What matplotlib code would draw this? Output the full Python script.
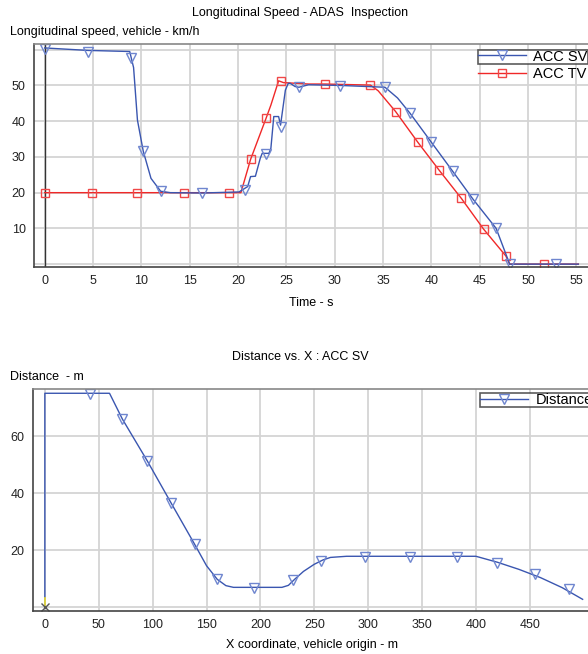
import matplotlib
matplotlib.use("Agg")
import matplotlib.pyplot as plt
from matplotlib.lines import Line2D

plt.rcParams['font.family'] = ['Liberation Sans', 'DejaVu Sans']
plt.rcParams['font.size'] = 9

# ---- top chart: speed vs time ----
sv_t = [0, 4.5, 8.8, 9.2, 9.6, 10.2, 11.0, 12.0, 13.0, 16.3, 20.1, 21.0, 21.3, 21.8, 22.3, 22.5,
        23.2, 23.4, 23.7, 24.2, 24.4, 24.9, 25.2, 25.4, 25.9, 26.3, 27.3, 30.6, 35.2, 36.5, 37.8,
        40.0, 42.2, 44.3, 46.7, 48.1, 52.9, 55.2]
sv_v = [60.5, 59.8, 59.5, 55.0, 40.3, 31.6, 24.0, 20.4, 20.0, 19.9, 20.2, 21.7, 24.5, 24.6, 29.6, 31.0,
        31.0, 32.4, 41.3, 41.3, 38.9, 48.7, 50.6, 50.6, 49.7, 49.5, 50.2, 50.0, 49.5, 46.5, 42.2,
        34.1, 26.0, 18.2, 10.0, 0.0, 0.0, 0.0]
sv_mt = [0, 4.5, 8.9, 10.2, 12.0, 16.3, 20.7, 22.9, 24.4, 26.3, 30.6, 35.2, 37.8, 40.0, 42.2, 44.3, 46.7, 48.1, 52.9]
sv_mv = [60.2, 59.3, 57.6, 31.6, 20.4, 19.8, 20.7, 30.7, 38.5, 49.5, 49.9, 49.5, 42.2, 34.1, 26.0, 18.2, 10.0, 0.0, 0.0]

tv_t = [0, 4.9, 9.6, 14.4, 19.1, 20.3, 21.3, 22.9, 23.4, 24.2, 24.7, 27.3, 29.0, 33.7, 34.5, 36.3,
        38.6, 40.8, 43.1, 45.4, 47.7, 48.1, 51.7, 55.2]
tv_v = [20, 20, 20, 20, 20, 20, 29.3, 40.8, 44.5, 51.3, 50.8, 50.4, 50.4, 50.1, 48.5, 42.7,
        34.1, 26.3, 18.4, 9.8, 2.3, 0, 0, 0]
tv_mt = [0, 4.9, 9.6, 14.4, 19.1, 21.3, 22.9, 24.4, 29.0, 33.7, 36.3, 38.6, 40.8, 43.1, 45.4, 47.7, 51.7]
tv_mv = [20, 20, 20, 20, 20, 29.3, 40.8, 51.3, 50.4, 50.1, 42.7, 34.1, 26.3, 18.4, 9.8, 2.3, 0]

time_ticks = [0, 5, 10, 15, 20, 25, 30, 35, 40, 45, 50, 55]
speed_ticks = [0, 10, 20, 30, 40, 50, 60]

# ---- bottom chart: distance vs x ----
dx = [0, 0, 60, 72, 95, 117, 139, 150, 160, 168, 175, 180, 220, 226, 232, 240, 250, 258, 265,
      280, 400, 420, 440, 460, 480, 499]
dy = [0, 75, 75, 65.9, 51.3, 36.6, 22.0, 14.5, 9.7, 7.5, 6.9, 6.9, 6.9, 7.6, 9.8, 12.5, 15.0, 16.5, 17.4,
      17.8, 17.8, 15.7, 13.2, 10.3, 6.8, 2.7]
d_mx = [42, 72, 95, 117, 139, 160, 194, 230, 256, 297, 339, 382, 420, 455, 486]
d_my = [74.7, 65.9, 51.3, 36.6, 22.0, 9.7, 6.6, 9.5, 16.2, 17.7, 17.7, 17.7, 15.5, 11.5, 6.3]

x_ticks = [0, 50, 100, 150, 200, 250, 300, 350, 400, 450]
dist_ticks = [0, 20, 40, 60]

blue = '#3a56b0'
blue_m = '#6f86cf'
red = '#f02828'
red_m = '#f04848'
grid_c = '#d4d4d4'

fig = plt.figure(figsize=(5.88, 6.54), dpi=100)


def style(ax):
    ax.grid(True, color=grid_c, linewidth=1.3)
    ax.set_axisbelow(True)
    ax.tick_params(length=0, labelsize=9, colors='#222222', pad=6)
    for s in ['left', 'bottom', 'top']:
        ax.spines[s].set_color('#444444')
        ax.spines[s].set_linewidth(1.2)
    ax.spines['top'].set_color('#888888')
    ax.spines['right'].set_visible(False)


# top axes
ax1 = fig.add_axes([34 / 588, 387 / 654, 1 - 34 / 588, 223 / 654])
style(ax1)
ax1.axvline(0, color='#333333', linewidth=1.0, zorder=1)
ax1.plot(tv_t, tv_v, color=red, linewidth=1.0)
ax1.plot(tv_mt, tv_mv, linestyle='none', marker='s', markersize=6, markerfacecolor='none',
         markeredgecolor=red_m, markeredgewidth=1.0)
ax1.plot(sv_t, sv_v, color=blue, linewidth=1.0)
ax1.plot(sv_mt, sv_mv, linestyle='none', marker='v', markersize=6.5, markerfacecolor='none',
         markeredgecolor=blue_m, markeredgewidth=1.0)
ax1.set_xlim(-1.1, 56.2)
ax1.set_ylim(-0.8, 61.6)
ax1.set_xticks(time_ticks)
ax1.set_yticks(speed_ticks)
ax1.set_yticklabels(['' if v in (0, 60) else str(v) for v in speed_ticks])

h_sv = Line2D([], [], color=blue, linewidth=1.0, marker='v', markersize=6.5,
              markerfacecolor='none', markeredgecolor=blue_m)
h_tv = Line2D([], [], color=red, linewidth=1.0, marker='s', markersize=6,
              markerfacecolor='none', markeredgecolor=red_m)
leg1 = ax1.legend([h_sv], ['ACC SV'], loc='upper left', bbox_to_anchor=(0.801, 0.975),
                  fontsize=10.5, frameon=True, fancybox=False, borderpad=0.0, handlelength=3.3,
                  handletextpad=0.5, borderaxespad=0)
leg1.get_frame().set_edgecolor('#333333')
leg1.get_frame().set_linewidth(1.2)
ax1.add_artist(leg1)
ax1.legend([h_tv], ['ACC TV'], loc='upper left', bbox_to_anchor=(0.801, 0.898),
           fontsize=10.5, frameon=False, borderpad=0.0, handlelength=3.3,
           handletextpad=0.5, borderaxespad=0)

fig.text(300 / 588, 1 - 13 / 654, 'Longitudinal Speed - ADAS  Inspection', ha='center', va='center', fontsize=9)
fig.text(10 / 588, 1 - 32 / 654, 'Longitudinal speed, vehicle - km/h', ha='left', va='center', fontsize=9)
fig.text(311 / 588, 1 - 303 / 654, 'Time - s', ha='center', va='center', fontsize=9)

# bottom axes
ax2 = fig.add_axes([33 / 588, 43 / 654, 1 - 33 / 588, 222 / 654])
style(ax2)
ax2.plot(dx, dy, color=blue, linewidth=1.0)
ax2.plot(d_mx, d_my, linestyle='none', marker='v', markersize=6.5, markerfacecolor='none',
         markeredgecolor=blue_m, markeredgewidth=1.0)
ax2.plot([0, 0], [0, 3], color='#f0e030', linewidth=1.2)
ax2.plot([0], [0], linestyle='none', marker='x', markersize=6, color='#555555', markeredgewidth=1.0)
ax2.set_xlim(-11, 504)
ax2.set_ylim(-1.4, 76.5)
ax2.set_xticks(x_ticks)
ax2.set_yticks(dist_ticks)
ax2.set_yticklabels(['' if v == 0 else str(v) for v in dist_ticks])

h_d = Line2D([], [], color=blue, linewidth=1.0, marker='v', markersize=6.5,
             markerfacecolor='none', markeredgecolor=blue_m)
leg2 = ax2.legend([h_d], ['Distance'], loc='upper left', bbox_to_anchor=(0.806, 0.98),
                  fontsize=10.5, frameon=True, fancybox=False, borderpad=0.0, handlelength=3.3,
                  handletextpad=0.5, borderaxespad=0)
leg2.get_frame().set_edgecolor('#333333')
leg2.get_frame().set_linewidth(1.2)

fig.text(300 / 588, 1 - 357 / 654, 'Distance vs. X : ACC SV', ha='center', va='center', fontsize=9)
fig.text(10 / 588, 1 - 377 / 654, 'Distance  - m', ha='left', va='center', fontsize=9)
fig.text(312 / 588, 1 - 645 / 654, 'X coordinate, vehicle origin - m', ha='center', va='center', fontsize=9)

fig.savefig('out.png', dpi=100)
